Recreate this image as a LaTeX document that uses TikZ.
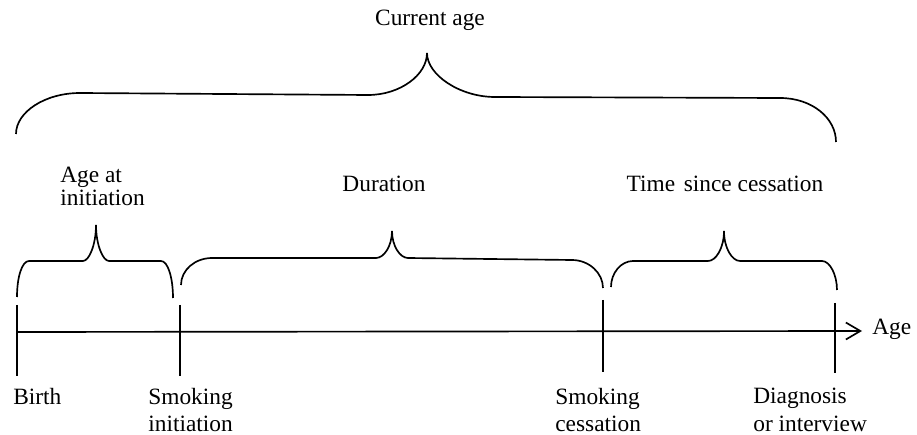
\documentclass[tikz,border=0pt]{standalone}
\usepackage{fontspec}
\setmainfont{Liberation Serif}
\usetikzlibrary{arrows.meta,calc}
\definecolor{ink}{RGB}{0,0,0}
\tikzset{
	timeline/.style={-{Straight Barb[length=2.9mm,width=3.4mm]},line width=0.95pt,draw=ink},
	eventtick/.style={line width=0.95pt,draw=ink},
	bracket/.style={line width=0.95pt,draw=ink},
	label/.style={inner sep=0pt,text=ink,align=left,font=\fontsize{13.3pt}{15.5pt}\selectfont},
}

\begin{document}
\begin{tikzpicture}[x=0.02cm,y=-0.02cm]
		\useasboundingbox (0,0) rectangle (917,435);
		
		% events on the age axis
		\coordinate (birth) at (17,332);
		\coordinate (init) at (180,332);
		\coordinate (cess) at (603,332);
		\coordinate (diag) at (835,332);
		\coordinate (axisend) at (862,331);
		
		\draw[timeline] (birth) -- (axisend);
		\draw[eventtick] ($(birth)+(0,-27)$) -- ($(birth)+(0,44)$);
		\draw[eventtick] ($(init)+(0,-27)$) -- ($(init)+(0,44)$);
		\draw[eventtick] ($(cess)+(0,-32)$) -- ($(cess)+(0,40)$);
		\draw[eventtick] ($(diag)+(0,-29)$) -- ($(diag)+(0,41)$);
		
		\node[label,anchor=base west] (agelbl) at ($(axisend)+(10,4)$) {Age};
		\node[label,anchor=north west] (birthlbl) at (13,388) {Birth};
		\node[label,anchor=north west] (initlbl) at (148,388) {Smoking\\initiation};
		\node[label,anchor=north west] (cesslbl) at (555,388) {Smoking\\cessation};
		\node[label,anchor=north west] (diaglbl) at (753,388) {Diagnosis\\or interview};
		
		% braces over the intervals
		\draw[bracket] (17,297) .. controls (17,277) and (22,261) .. (29,261)
		-- (83,261) .. controls (89,261) and (96,245) .. (96,225)
		.. controls (96,245) and (103,261) .. (109,261)
		-- (161,261) .. controls (168,261) and (173,278) .. (173,298);
		\draw[bracket] (181,285) .. controls (181,270) and (195,258) .. (212,258)
		-- (376,258) .. controls (384,258) and (392,246) .. (392,231)
		.. controls (392,246) and (400,258) .. (408,258)
		-- (572,260) .. controls (589,260) and (603,273) .. (603,288);
		\draw[bracket] (611,287) .. controls (611,273) and (621,261) .. (633,261)
		-- (708,261) .. controls (716,261) and (724,248) .. (724,231)
		.. controls (724,248) and (732,261) .. (740,261)
		-- (822,261) .. controls (830,261) and (837,275) .. (837,290);
		\draw[bracket] (16,134) .. controls (16,112) and (45,93) .. (80,93)
		-- (368,95) .. controls (400,95) and (427,75) .. (427,53)
		.. controls (427,75) and (460,97) .. (495,97)
		-- (780,98) .. controls (812,98) and (836,118) .. (836,142);
		
		\node[label,anchor=north west,font=\fontsize{13.3pt}{13pt}\selectfont]
		(initage) at (60,167) {Age at\\initiation};
		\node[label,anchor=base] (duration) at (384,192) {Duration};
		\node[label,anchor=base] (sincecess) at (725,192) {Time\hspace{0.12em} since cessation};
		\node[label,anchor=base] (currentage) at (430,26) {Current age};
		
	\end{tikzpicture}
\end{document}
